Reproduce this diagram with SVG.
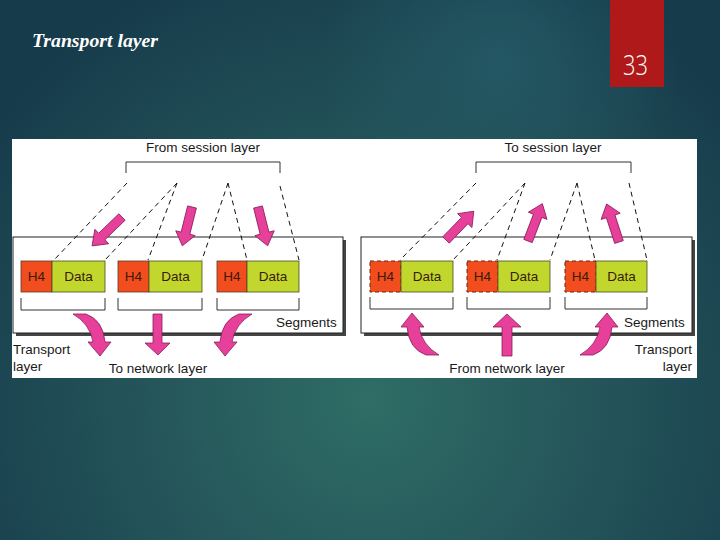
<svg xmlns="http://www.w3.org/2000/svg" width="720" height="540" viewBox="0 0 720 540">
<defs>
<radialGradient id="bg" cx="370" cy="400" r="470" gradientUnits="userSpaceOnUse">
<stop offset="0" stop-color="#2f6d66"/>
<stop offset="0.5" stop-color="#245459"/>
<stop offset="1" stop-color="#163b4b"/>
</radialGradient>
<radialGradient id="bg2" cx="500" cy="60" r="180" gradientUnits="userSpaceOnUse">
<stop offset="0" stop-color="#255c68" stop-opacity="0.8"/>
<stop offset="1" stop-color="#255c68" stop-opacity="0"/>
</radialGradient>
<path id="sarrow" d="M0,-4.5 L27,-4.5 L27,-10 L40,0 L27,10 L27,4.5 L0,4.5 Z"/>
<path id="carrow" d="M73,314 L86,314 Q103,320 105,342 L111,342 L100,356 L88,342 L93,342 Q90,324 73,314 Z"/>
<style>
.t{font-family:"Liberation Sans","DejaVu Sans",sans-serif;font-size:13.5px;fill:#1a1a1a}
.pink{fill:#e6409b;stroke:#8a1d5a;stroke-width:0.8;stroke-linejoin:round}
.dash{stroke:#111;stroke-width:1;stroke-dasharray:5,4;fill:none}
.br{stroke:#333;stroke-width:1;fill:none}
.h4{fill:#f24d1f;stroke:#5a3a20;stroke-width:0.8}
.h4d{fill:#f24d1f;stroke:#5a2a10;stroke-width:1;stroke-dasharray:4,3}
.data{fill:#c1d72e;stroke:#4a4a20;stroke-width:0.8}
.lbl{font-family:"Liberation Sans","DejaVu Sans",sans-serif;font-size:13.5px;fill:#3a1a0a;text-anchor:middle}
</style>
</defs>
<rect width="720" height="540" fill="url(#bg)"/>
<rect width="720" height="540" fill="url(#bg2)"/>
<text x="32" y="47" font-family="Liberation Serif,serif" font-style="italic" font-weight="bold" font-size="18" fill="#ffffff" textLength="126" lengthAdjust="spacingAndGlyphs">Transport layer</text>
<rect x="610" y="0" width="54" height="87" fill="#b0191a"/>
<text x="623" y="75" font-family="Open Sans,Liberation Sans,sans-serif" font-weight="300" font-size="27" fill="#ffffff" textLength="25" lengthAdjust="spacingAndGlyphs">33</text>
<rect x="12" y="139" width="685" height="239" fill="#ffffff"/>

<g id="left-box">
<rect x="16" y="240" width="330" height="96" fill="#444"/>
<rect x="13" y="237" width="330" height="96" fill="#fff" stroke="#222" stroke-width="1"/>
</g>
<g id="right-box">
<rect x="364" y="240" width="331" height="96" fill="#444"/>
<rect x="361" y="237" width="331" height="96" fill="#fff" stroke="#222" stroke-width="1"/>
</g>

<g id="left-session">
<text class="t" x="203" y="152" text-anchor="middle">From session layer</text>
<path class="br" d="M126,173 V162 H280 V173"/>
</g>
<g id="right-session">
<text class="t" x="553" y="152" text-anchor="middle">To session layer</text>
<path class="br" d="M476,173 V162 H631 V173"/>
</g>

<g id="connectors">
<path class="dash" d="M127,183 L54,260 M177,183 L105,260 M177,183 L148,260 M228,183 L202,260 M228,183 L247,260 M280,186 L299,260"/>
<path class="dash" d="M476,183 L400,260 M525,183 L453,260 M525,183 L497,260 M577,183 L550,260 M577,183 L595,260 M629,183 L647,260"/>
<path class="br" d="M21,298 V310 H105 V298 M118,298 V310 H202 V298 M217,298 V310 H299 V298"/>
<path class="br" d="M370,297 V309 H453 V297 M467,297 V309 H550 V297 M565,297 V309 H647 V297"/>
<use href="#sarrow" class="pink" transform="translate(122,217) rotate(136) scale(1.04,1)"/>
<use href="#sarrow" class="pink" transform="translate(192,207) rotate(104)"/>
<use href="#sarrow" class="pink" transform="translate(258,207) rotate(76)"/>
<use href="#sarrow" class="pink" transform="translate(446,240) rotate(-46)"/>
<use href="#sarrow" class="pink" transform="translate(528,241) rotate(-69)"/>
<use href="#sarrow" class="pink" transform="translate(619,242) rotate(-108)"/>
<use href="#carrow" class="pink"/>
<use href="#carrow" class="pink" transform="translate(325,0) scale(-1,1)"/>
<path class="pink" d="M153,314 L162,314 L162,343 L170,343 L158,355 L145,343 L153,343 Z"/>
<use href="#carrow" class="pink" transform="translate(512,669) scale(-1,-1)"/>
<use href="#carrow" class="pink" transform="translate(507,669) scale(1,-1)"/>
<path class="pink" d="M502,356 L512,356 L512,327 L521,327 L507,314 L493,327 L502,327 Z"/>
</g>

<g id="seg-l1"><rect class="h4" x="21" y="261" width="31" height="31"/><rect class="data" x="52" y="261" width="53" height="31"/><text class="lbl" x="36.5" y="281">H4</text><text class="lbl" x="78.5" y="281">Data</text></g>
<g id="seg-l2"><rect class="h4" x="118" y="261" width="31" height="31"/><rect class="data" x="149" y="261" width="53" height="31"/><text class="lbl" x="133.5" y="281">H4</text><text class="lbl" x="175.5" y="281">Data</text></g>
<g id="seg-l3"><rect class="h4" x="217" y="261" width="30" height="31"/><rect class="data" x="247" y="261" width="52" height="31"/><text class="lbl" x="232" y="281">H4</text><text class="lbl" x="273" y="281">Data</text></g>
<g id="seg-r1"><rect class="h4d" x="370" y="261" width="31" height="31"/><rect class="data" x="401" y="261" width="52" height="31"/><text class="lbl" x="385.5" y="281">H4</text><text class="lbl" x="427" y="281">Data</text></g>
<g id="seg-r2"><rect class="h4d" x="467" y="261" width="31" height="31"/><rect class="data" x="498" y="261" width="52" height="31"/><text class="lbl" x="482.5" y="281">H4</text><text class="lbl" x="524" y="281">Data</text></g>
<g id="seg-r3"><rect class="h4d" x="565" y="261" width="31" height="31"/><rect class="data" x="596" y="261" width="51" height="31"/><text class="lbl" x="580.5" y="281">H4</text><text class="lbl" x="621.5" y="281">Data</text></g>

<g id="labels">
<text class="t" x="276" y="327">Segments</text>
<text class="t" x="624" y="327">Segments</text>
<text class="t" x="13" y="354">Transport</text>
<text class="t" x="13" y="371">layer</text>
<text class="t" x="692" y="354" text-anchor="end">Transport</text>
<text class="t" x="692" y="371" text-anchor="end">layer</text>
<text class="t" x="158" y="373" text-anchor="middle">To network layer</text>
<text class="t" x="507" y="373" text-anchor="middle">From network layer</text>
</g>
</svg>
